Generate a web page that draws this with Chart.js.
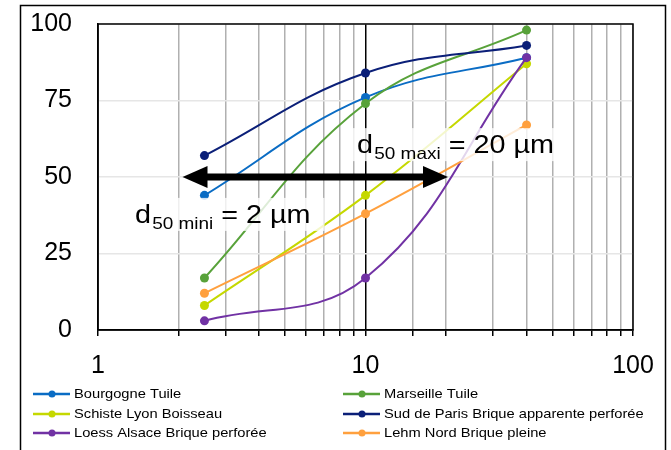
<!DOCTYPE html>
<html>
<head>
  <title>d50 granulométrie</title>
  <script src="https://cdn.jsdelivr.net/npm/chart.js"></script>
  <style>
    body {
      margin: 0;
      background: #fff;
    }
    #wrap {
      width: 671px;
      height: 450px;
    }
  </style>
</head>
<body>
  <div id="wrap">
    <canvas id="granChart" width="671" height="450"></canvas>
  </div>

  <script>
    // sizes in µm (log axis) and % passing
    const xValues = [2.5, 10, 40];
    const xLabels = [1, 10, 100];
    const yTicks = [0, 25, 50, 75, 100];

    const seriesNames = [
      'Bourgogne Tuile',
      'Marseille Tuile',
      'Schiste Lyon Boisseau',
      'Sud de Paris Brique apparente perforée',
      'Loess Alsace Brique perforée',
      'Lehm Nord Brique pleine'
    ];
    const bourgogne = [44, 76, 89];
    const marseille = [17, 74, 98];
    const schiste = [8, 44, 87];
    const sudParis = [57, 84, 93];
    const loess = [3, 17, 89];
    const lehm = [12, 38, 67];
    const seriesColors = ['#0A6CC4', '#58A23A', '#C5D800', '#0B1F78', '#7132A4', '#FFA03E'];

    // annotation values
    const d50Mini = 2;
    const d50Maxi = 20;
    const d50Level = 50;

    const FONT = 'Arial, "Liberation Sans", sans-serif';
    const STRETCH = 1.15; // text in the original is a bit wide
    const allSeries = [bourgogne, marseille, schiste, sudParis, loess, lehm];

    const datasets = allSeries.map((vals, i) => ({
      label: seriesNames[i],
      data: vals.map((v, j) => ({ x: xValues[j], y: v })),
      borderColor: seriesColors[i],
      backgroundColor: seriesColors[i],
      borderWidth: 2,
      pointRadius: 4.5,
      pointHoverRadius: 4.5,
      pointBorderWidth: 0,
      tension: 0.4,
      fill: false,
      order: -i
    }));

    const framePlugin = {
      id: 'frame',
      beforeDraw(chart) {
        const c = chart.ctx;
        c.save();
        c.fillStyle = '#fff';
        c.fillRect(0, 0, chart.width, chart.height);
        c.strokeStyle = '#000';
        c.lineWidth = 1.5;
        c.strokeRect(20.5, 5.5, 645, 470);
        c.restore();
      },
      beforeDatasetsDraw(chart) {
        const a = chart.chartArea;
        const c = chart.ctx;
        c.save();
        c.strokeStyle = '#000';
        c.lineWidth = 1.5;
        c.strokeRect(a.left, a.top, a.right - a.left, a.bottom - a.top);
        c.restore();
      }
    };

    // "d" + subscript + tail, drawn slightly stretched; returns width
    function subText(c, x, y, main, sub, tail, draw) {
      c.save();
      c.translate(x, y);
      c.scale(STRETCH, 1);
      c.font = '25px ' + FONT;
      if (draw) c.fillText(main, 0, 0);
      let w = c.measureText(main).width;
      c.font = '16.5px ' + FONT;
      if (draw) c.fillText(sub, w + 1, 6);
      w += 1 + c.measureText(sub).width;
      c.font = '25px ' + FONT;
      if (draw) c.fillText(tail, w, 0);
      w += c.measureText(tail).width;
      c.restore();
      return w * STRETCH;
    }

    function note(c, x, y, sub, tail) {
      const w = subText(c, x, y, 'd', sub, tail, false);
      c.fillStyle = 'rgba(255,255,255,0.8)';
      c.fillRect(x - 8, y - 25, w + 22, 33);
      c.fillStyle = '#000';
      subText(c, x, y, 'd', sub, tail, true);
    }

    const notesPlugin = {
      id: 'notes',
      afterDatasetsDraw(chart) {
        const c = chart.ctx;
        const xs = chart.scales.x, ys = chart.scales.y;
        c.save();
        c.textBaseline = 'alphabetic';
        note(c, xs.getPixelForValue(1.375), ys.getPixelForValue(35), '50 mini', ' = 2 µm');
        note(c, xs.getPixelForValue(9.3), ys.getPixelForValue(57.8), '50 maxi', ' = 20 µm');

        // double arrow d50 mini -> d50 maxi
        const y = ys.getPixelForValue(d50Level);
        const x1 = xs.getPixelForValue(d50Mini) + 4;
        const x2 = xs.getPixelForValue(d50Maxi) + 2;
        const head = 25, hh = 11;
        c.strokeStyle = '#000';
        c.fillStyle = '#000';
        c.lineWidth = 7;
        c.beginPath();
        c.moveTo(x1 + head - 2, y);
        c.lineTo(x2 - head + 2, y);
        c.stroke();
        c.beginPath();
        c.moveTo(x1, y);
        c.lineTo(x1 + head, y - hh);
        c.lineTo(x1 + head, y + hh);
        c.closePath();
        c.fill();
        c.beginPath();
        c.moveTo(x2, y);
        c.lineTo(x2 - head, y - hh);
        c.lineTo(x2 - head, y + hh);
        c.closePath();
        c.fill();
        c.restore();
      }
    };

    const legendPlugin = {
      id: 'legend2col',
      afterDraw(chart) {
        const c = chart.ctx;
        const cols = [33, 343];
        const rows = [394, 414, 433];
        c.save();
        c.font = '13px ' + FONT;
        c.textBaseline = 'middle';
        seriesNames.forEach((name, i) => {
          const x = cols[i % 2];
          const y = rows[Math.floor(i / 2)];
          c.strokeStyle = seriesColors[i];
          c.fillStyle = seriesColors[i];
          c.lineWidth = 2.5;
          c.beginPath();
          c.moveTo(x, y);
          c.lineTo(x + 37, y);
          c.stroke();
          c.beginPath();
          c.arc(x + 19, y, 3.5, 0, Math.PI * 2);
          c.fill();
          c.fillStyle = '#000';
          c.save();
          c.translate(x + 41, y);
          c.scale(1.13, 1);
          c.fillText(name, 0, 0);
          c.restore();
        });
        c.restore();
      }
    };

    const ctx = document.getElementById('granChart').getContext('2d');
    const granChart = new Chart(ctx, {
      type: 'line',
      data: { datasets: datasets },
      plugins: [framePlugin, notesPlugin, legendPlugin],
      options: {
        responsive: false,
        animation: false,
        devicePixelRatio: 1,
        layout: { padding: { left: 0, right: 38, top: 24, bottom: 62 } },
        scales: {
          x: {
            type: 'logarithmic',
            min: 1,
            max: 100,
            afterFit(scale) { scale.height = 58; },
            border: { color: '#000', width: 1.5 },
            grid: {
              color: ctx => (ctx.tick && ctx.tick.value === 10) ? '#000' : '#b0b0b0',
              lineWidth: 1.5,
              tickColor: '#000',
              tickLength: 6,
              drawTicks: true
            },
            ticks: {
              autoSkip: false,
              maxRotation: 0,
              padding: 15,
              color: '#000',
              font: { family: FONT, size: 25 },
              callback: v => xLabels.includes(v) ? String(v) : ''
            }
          },
          y: {
            min: 0,
            max: 100,
            afterFit(scale) { scale.width = 98; },
            afterBuildTicks(scale) { scale.ticks = yTicks.map(v => ({ value: v })); },
            border: { color: '#000', width: 1.5 },
            grid: {
              color: '#e6e6e6',
              lineWidth: 1.5,
              drawTicks: true,
              tickLength: 26,
              tickColor: 'rgba(0,0,0,0)'
            },
            ticks: {
              padding: 0,
              color: '#000',
              font: { family: FONT, size: 25 }
            }
          }
        },
        plugins: {
          legend: { display: false },
          tooltip: { enabled: false }
        }
      }
    });
  </script>
</body>
</html>
